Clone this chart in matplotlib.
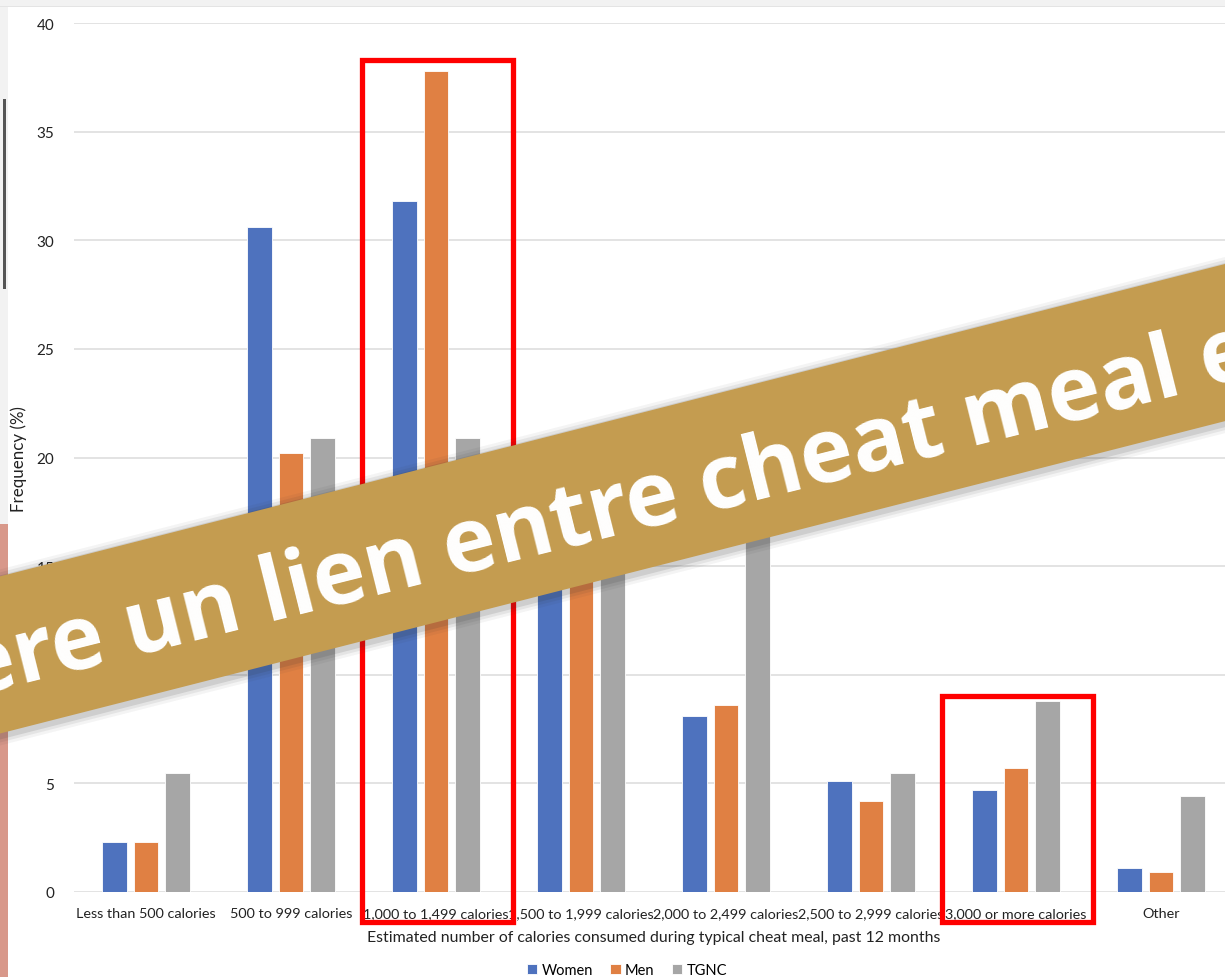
#!/usr/bin/env python3
"""Cheat meal calories by gender: grouped bar chart with highlight boxes and banner."""
import numpy as np
import matplotlib
matplotlib.use("Agg")
import matplotlib.pyplot as plt
from matplotlib.patches import Rectangle, Polygon

W, H = 1225, 978

categories = ["Less than 500 calories", "500 to 999 calories", "1,000 to 1,499 calories",
              "1,500 to 1,999 calories", "2,000 to 2,499 calories", "2,500 to 2,999 calories",
              "3,000 or more calories", "Other"]
women = [2.3, 30.6, 31.8, 16.3, 8.1, 5.1, 4.7, 1.1]
men = [2.3, 20.2, 37.8, 20.3, 8.6, 4.2, 5.7, 0.9]
tgnc = [5.5, 20.9, 20.9, 15.4, 18.7, 5.5, 8.8, 4.4]
series_names = ["Women", "Men", "TGNC"]
colors = ["#4E72BE", "#E08043", "#A6A6A6"]
yticks = [0, 5, 10, 15, 20, 25, 30, 35, 40]
highlight = [2, 6]
banner_text = "ere un lien entre cheat meal e"

FONT = "Lato"


def px(x, y):
    """pixel position -> figure fraction"""
    return (x / W, 1 - y / H)


fig = plt.figure(figsize=(W / 100, H / 100), dpi=100, facecolor="#f2f2f2")

# white card + edge of photo on the left
fig.patches.append(Rectangle(px(8, H), (W - 8) / W, (H - 8) / H, transform=fig.transFigure,
                             facecolor="white", edgecolor="none", zorder=-10))
fig.patches.append(Rectangle(px(0, 8), 1, 1 / H, transform=fig.transFigure,
                             facecolor="#e4e4e4", edgecolor="none", zorder=-9))
fig.patches.append(Rectangle(px(0, H), 8 / W, (H - 525) / H, transform=fig.transFigure,
                             facecolor="#d8988a", edgecolor="none", zorder=-9))
fig.patches.append(Rectangle(px(3, 290), 3 / W, 190 / H, transform=fig.transFigure,
                             facecolor="#555555", edgecolor="none", zorder=-9))

ax = fig.add_axes([73.5 / W, 1 - 893 / H, 1160 / W, 869 / H])
ax.set_facecolor("none")
x = np.arange(len(categories))
step, bw = 0.217, 0.172
for i, (vals, name, c) in enumerate(zip([women, men, tgnc], series_names, colors)):
    ax.bar(x + (i - 1) * step, vals, width=bw, color=c, label=name,
           edgecolor="white", linewidth=0.6, zorder=3)

ax.set_xlim(-0.5, len(categories) - 0.5)
ax.set_ylim(0, 40)
ax.set_yticks(yticks)
ax.grid(axis="y", color="#dedede", linewidth=1.2, zorder=0)
ax.set_axisbelow(True)
for s in ax.spines.values():
    s.set_visible(False)
ax.tick_params(axis="both", length=0, colors="#222222")
ax.tick_params(axis="y", pad=14, labelsize=11)
ax.tick_params(axis="x", pad=11, labelsize=10.4)
ax.set_xticks(x)
ax.set_xticklabels(categories, fontfamily=FONT)
for t in ax.get_yticklabels():
    t.set_fontfamily(FONT)
ax.set_xlabel("Estimated number of calories consumed during typical cheat meal, past 12 months",
              fontsize=11.4, fontfamily=FONT, color="#222222", labelpad=8)
fig.text(*px(19, 459), "Frequency (%)", rotation=90, ha="center", va="center",
         fontsize=12.2, fontfamily=FONT, color="#222222")

# red highlight boxes
for g, top in zip(highlight, [38.3, 9.0]):
    ax.add_patch(Rectangle((g - 0.51, -1.4), 1.04, top + 1.4, fill=False, edgecolor="#ff0000",
                           linewidth=3.8, joinstyle="miter", clip_on=False, zorder=5))

handles, labels = ax.get_legend_handles_labels()
fig.legend(handles, labels, loc="center", bbox_to_anchor=px(627, 971), ncol=3, frameon=False,
           handlelength=0.7, handleheight=0.7, handletextpad=0.3, columnspacing=1.2,
           prop={"family": FONT, "size": 10.5})

# tilted banner across the chart
slope = 0.255
def edge(x0, y0):
    return lambda xx: y0 - (xx - x0) * slope
top_y = edge(1225, 265)
bot_y = edge(500, 607)
xa, xb = -60, W + 60
for k, a in [(9, 0.05), (6, 0.08), (3, 0.12)]:
    pts = [px(xa, top_y(xa) - k + 2), px(xb, top_y(xb) - k + 2),
           px(xb, bot_y(xb) + k + 3), px(xa, bot_y(xa) + k + 3)]
    fig.patches.append(Polygon(pts, closed=True, transform=fig.transFigure,
                               facecolor="#303030", alpha=a, edgecolor="none", zorder=8))
pts = [px(xa, top_y(xa)), px(xb, top_y(xb)), px(xb, bot_y(xb)), px(xa, bot_y(xa))]
fig.patches.append(Polygon(pts, closed=True, transform=fig.transFigure,
                           facecolor="#C49C50", edgecolor="none", zorder=9))
angle = np.degrees(np.arctan(0.25))
fig.text(*px(614, 536), banner_text, rotation=angle, rotation_mode="anchor", ha="center",
         va="baseline", fontsize=64, fontweight="bold", fontfamily="Open Sans", color="white",
         zorder=10)

fig.savefig("out.png", dpi=100, facecolor=fig.get_facecolor())
